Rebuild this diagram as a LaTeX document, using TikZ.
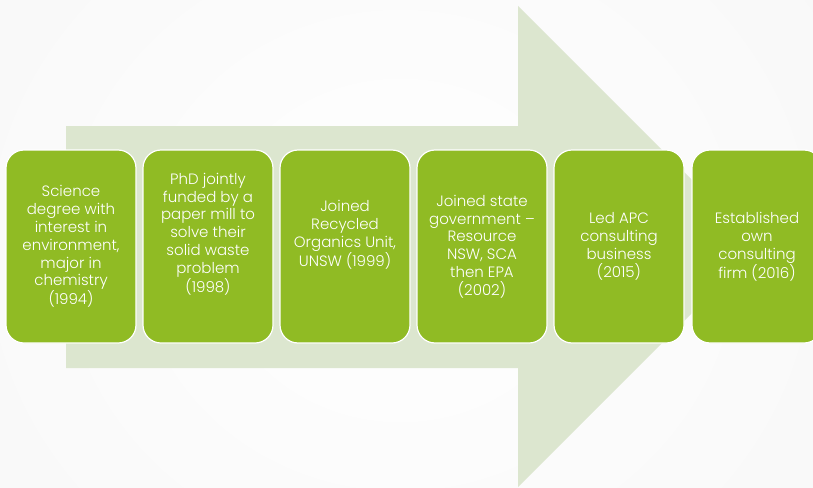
\documentclass[tikz,border=0pt]{standalone}
\usepackage{fontspec}
\setmainfont{Poppins}[UprightFont=* Light]
\definecolor{bgc}{RGB}{247,247,247}
\definecolor{arrowc}{RGB}{220,230,207}
\definecolor{boxc}{RGB}{144,187,36}
\begin{document}
\begin{tikzpicture}[x=1pt,y=-1pt,
  stagebox/.style={draw=white,line width=1.2pt,fill=boxc,rounded corners=18pt,
    minimum width=130pt,minimum height=193pt,inner sep=0pt},
  stagetext/.style={text=white,align=center,inner sep=0pt,
    font=\fontsize{15}{17.8}\selectfont}]
\useasboundingbox (0,0) rectangle (813,487);
\clip (0,0) rectangle (813,487);
\shade[inner color=white,outer color=bgc] (-200,-300) rectangle (1000,800);
% big arrow
\fill[arrowc] (66,126) -- (518,126) -- (518,6) -- (758.5,246.5) -- (518,487) -- (518,368) -- (66,368) -- cycle;
% boxes
\node[stagebox] (b1) at (71,246.5) {};
\node[stagebox] (b2) at (208,246.5) {};
\node[stagebox] (b3) at (345,246.5) {};
\node[stagebox] (b4) at (482,246.5) {};
\node[stagebox] (b5) at (619,246.5) {};
\node[stagebox] (b6) at (757,246.5) {};
% texts
\node[stagetext] (t1) at (b1.center) {Science\\degree with\\interest in\\environment,\\major in\\chemistry\\(1994)};
\node[stagetext] (t2) at ([yshift=12.5pt]b2.center) {PhD jointly\\funded by a\\paper mill to\\solve their\\solid waste\\problem\\(1998)};
\node[stagetext] (t3) at ([yshift=11.5pt]b3.center) {Joined\\Recycled\\Organics Unit,\\UNSW (1999)};
\node[stagetext] (t4) at (b4.center) {Joined state\\government --\\Resource\\NSW, SCA\\then EPA\\(2002)};
\node[stagetext] (t5) at (b5.center) {Led APC\\consulting\\business\\(2015)};
\node[stagetext] (t6) at (b6.center) {Established\\own\\consulting\\firm (2016)};
\end{tikzpicture}
\end{document}
